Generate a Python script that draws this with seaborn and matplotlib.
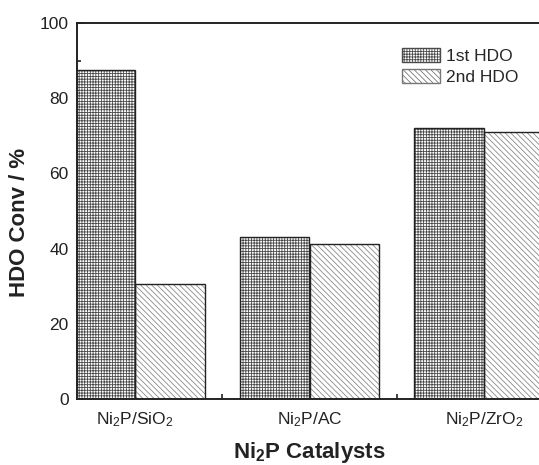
import pandas as pd
import matplotlib
matplotlib.use("Agg")
import matplotlib.pyplot as plt
from matplotlib.patches import Patch
from matplotlib.ticker import FixedLocator, MultipleLocator
import seaborn as sns

# data
catalysts = ["Ni$_2$P/SiO$_2$", "Ni$_2$P/AC", "Ni$_2$P/ZrO$_2$"]
runs = ["1st HDO", "2nd HDO"]
conv_1st = [87.5, 43.0, 72.2]
conv_2nd = [30.6, 41.2, 70.9]

df = pd.DataFrame({
    "catalyst": catalysts * 2,
    "run": [runs[0]] * 3 + [runs[1]] * 3,
    "conv": conv_1st + conv_2nd,
})

sns.set_theme(style="ticks")
plt.rcParams["font.family"] = ["Liberation Sans", "DejaVu Sans"]
plt.rcParams["mathtext.fontset"] = "custom"
plt.rcParams["mathtext.rm"] = "Liberation Sans"
plt.rcParams["mathtext.it"] = "Liberation Sans:italic"
plt.rcParams["mathtext.bf"] = "Liberation Sans:bold"
plt.rcParams["hatch.linewidth"] = 0.6

fig = plt.figure(figsize=(5.39, 4.65), dpi=100)
ax = fig.add_axes([77 / 539, 66 / 465, 465 / 539, 376 / 465])

hatches = ["++++++", "\\\\\\\\\\\\"]
hatch_colors = ["#4a4a4a", "#8a8a8a"]

# hatched fill layer
sns.barplot(data=df, x="catalyst", y="conv", hue="run", hue_order=runs,
            palette=["white", "white"], saturation=1, linewidth=0,
            legend=False, ax=ax)
for i, bar in enumerate(ax.patches):
    k = i // 3
    bar.set_hatch(hatches[k])
    bar.set_edgecolor(hatch_colors[k])
    bar.set_linewidth(0)

# outline layer
sns.barplot(data=df, x="catalyst", y="conv", hue="run", hue_order=runs,
            palette=["#222222", "#222222"], fill=False, linewidth=1.0,
            legend=False, ax=ax)

ax.set_xlim(-0.33, 2.33)
ax.set_ylim(0, 100)
ax.yaxis.set_major_locator(MultipleLocator(20))
ax.yaxis.set_minor_locator(MultipleLocator(10))
ax.xaxis.set_minor_locator(FixedLocator([0.5, 1.5]))
ax.tick_params(axis="both", which="both", direction="in", colors="#222222",
               labelcolor="#222222", labelsize=12.5, width=1.2)
ax.tick_params(axis="y", which="major", length=5, pad=6)
ax.tick_params(axis="y", which="minor", length=3)
ax.tick_params(axis="x", which="major", length=0, pad=8)
ax.tick_params(axis="x", which="minor", length=3.5)

for side in ["left", "bottom", "top"]:
    ax.spines[side].set_visible(True)
    ax.spines[side].set_linewidth(1.4)
    ax.spines[side].set_color("#222222")
ax.spines["right"].set_visible(False)

ax.set_ylabel("HDO Conv / %", fontsize=16, fontweight="bold", color="#222222")
ax.set_xlabel(r"Ni$_{\mathbf{2}}$P Catalysts", fontsize=16, fontweight="bold",
              color="#222222")
ax.yaxis.set_label_coords(-0.1, 0.47)
ax.xaxis.set_label_coords(0.5, -0.11)

handles = [Patch(facecolor="white", edgecolor=hatch_colors[0], hatch=hatches[0]),
           Patch(facecolor="white", edgecolor="#777777", hatch=hatches[1])]
ax.legend(handles, runs, loc="upper left", bbox_to_anchor=(402 / 539, 1 - 48 / 465),
          bbox_transform=fig.transFigure, frameon=False, fontsize=12.5,
          handlelength=2.2, handleheight=0.85, handletextpad=0.35,
          labelspacing=0.3, borderpad=0, borderaxespad=0)

fig.savefig("out.png", dpi=100)
